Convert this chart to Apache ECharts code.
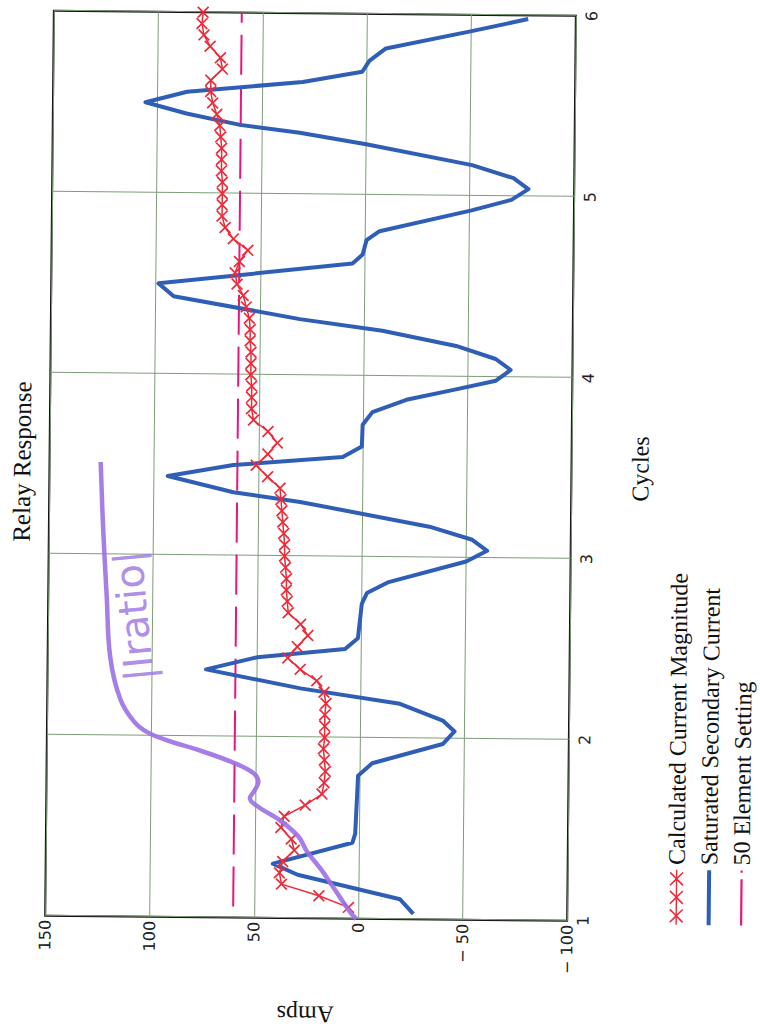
<!DOCTYPE html>
<html><head><meta charset="utf-8">
<script src="https://cdn.jsdelivr.net/npm/echarts@6/dist/echarts.min.js"></script>
<style>
html,body{margin:0;padding:0;width:760px;height:1036px;overflow:hidden;background:#fff;}
#chart{position:absolute;left:-138px;top:138px;width:1036px;height:760px;transform-origin:50% 50%;transform:rotate(-89.45deg);}
</style></head><body><div id="chart"></div>
<script>
// Tick values
const cycleTicks = [1, 2, 3, 4, 5, 6];
const ampTicks = [-100, -50, 0, 50, 100, 150];

// Calculated Current Magnitude (sampled every 1/16 cycle)
const calcCycles = [1.0625,1.125,1.1875,1.25,1.3125,1.375,1.4375,1.5,1.5625,1.625,1.6875,1.75,1.8125,1.875,1.9375,2,
  2.0625,2.125,2.1875,2.25,2.3125,2.375,2.4375,2.5,2.5625,2.625,2.6875,2.75,2.8125,2.875,2.9375,3,
  3.0625,3.125,3.1875,3.25,3.3125,3.375,3.4375,3.5,3.5625,3.625,3.6875,3.75,3.8125,3.875,3.9375,4,
  4.0625,4.125,4.1875,4.25,4.3125,4.375,4.4375,4.5,4.5625,4.625,4.6875,4.75,4.8125,4.875,4.9375,5,
  5.0625,5.125,5.1875,5.25,5.3125,5.375,5.4375,5.5,5.5625,5.625,5.6875,5.75,5.8125,5.875,5.9375,6];
const calcAmps = [4.8,19,37,38,36.5,31,32.5,37.5,36,26,18,17,16.5,17,17.5,17,
  17,17,16.5,17.5,21,29,35,30.5,25.5,29,35,35.5,36,36,36.5,37,
  37,37.5,38,38.5,39,39.5,45.5,51,45.5,41,45.5,52.5,53.5,53.5,53.5,54,
  54,54,54.5,54.5,55,56.5,58,61,62,60,56,63,67,68.5,68.5,68.5,68.5,69,
  69,69,69.5,70,71.5,73.5,74.5,74.5,69,70,75,78,79,78.5];

// Saturated Secondary Current
const satCycles = [1.03,1.11,1.24,1.30,1.42,1.47,1.79,1.86,1.97,2.04,2.10,2.19,2.27,2.37,2.44,2.49,2.55,2.74,2.80,2.86,2.98,3.04,3.10,3.17,3.30,3.35,3.436,3.50,3.55,3.61,3.73,3.80,3.87,3.93,3.98,4.04,4.10,4.17,4.25,4.31,4.43,4.50,4.62,4.67,4.75,4.80,4.92,4.98,5.04,5.10,5.17,5.28,5.34,5.38,5.44,5.50,5.56,5.62,5.68,5.74,5.81,5.91,5.98];
const satAmps = [-26.3,-19.9,29.3,41.2,3.2,1.9,0.8,-5.9,-39.6,-45.2,-39.5,-18.9,28.8,74.1,49.5,7.6,1.5,-0.2,-2.6,-12.5,-50,-60,-52.8,-32.2,29.8,61.8,93.3,61.9,9.6,0.5,0.2,-4.4,-20.6,-44.3,-63.4,-70.4,-63.2,-44.2,-8.8,30.8,91.3,98.6,5.8,1.0,-0.8,-7,-51,-70,-78.1,-70.9,-51,-0.2,31.7,60.3,86,105.7,85.8,30.5,2,-1.3,-9.2,-50.2,-77.2];

// 50 Element Setting
const setCycles = [1, 6];
const setAmps = [60, 60];

// Hand-drawn |Iratio| annotation
const ratioCycles = [1.0,1.03,1.17,1.27,1.37,1.45,1.54,1.61,1.66,1.70,1.75,1.80,1.86,1.93,1.97,2.02,2.08,2.20,2.43,2.77,3.14,3.51];
const ratioAmps = [1,3.5,12,18,25,29,38,48,52.5,50.5,48.5,51,61.5,79,91,102,108.5,115,120,122,124,125.5];
const noteCycles = [2.66];
const noteAmps = [109];

const zip = (xs, ys) => xs.map((x, i) => [x, ys[i]]);
const serif = 'Liberation Serif';
const RED = '#ee2a38', BLUE = '#2f5eb6', PINK = '#e8157f', PURPLE = '#9b70e4';

function xPoly(cx, cy, s, d) {
  const p = [[cx-s,cy-s+d],[cx-s+d,cy-s],[cx,cy-d],[cx+s-d,cy-s],[cx+s,cy-s+d],[cx+d,cy],
             [cx+s,cy+s-d],[cx+s-d,cy+s],[cx,cy+d],[cx-s+d,cy+s],[cx-s,cy+s-d],[cx-d,cy]];
  return 'M' + p.map(q => q[0] + ' ' + q[1]).join(' L') + ' Z';
}
const redIcon = 'path://M0 7.3 L55 7.3 L55 8.7 L0 8.7 Z ' + xPoly(9,8,7,1.1) + ' ' + xPoly(27.5,8,7,1.1) + ' ' + xPoly(46,8,7,1.1);
const blueIcon = 'path://M0 6 L55 6 L55 10 L0 10 Z';
const pinkIcon = 'path://M0 7 L42 7 L42 9 L0 9 Z M48 7 L50 7 L50 9 L48 9 Z';
const xSymbol = 'path://M0 1 L1 0 L5 4 L9 0 L10 1 L6 5 L10 9 L9 10 L5 6 L1 10 L0 9 L4 5 Z';

const chart = echarts.init(document.getElementById('chart'), null, {renderer: 'svg', width: 1036, height: 760});
chart.setOption({
  animation: false,
  backgroundColor: '#fff',
  title: {text: 'Relay Response', left: 566, top: 4, textAlign: 'center',
    textStyle: {fontFamily: serif, fontSize: 25, fontWeight: 'normal', color: '#111'}},
  legend: {
    orient: 'vertical', left: 114, top: 668, padding: 0, height: 92, itemWidth: 55, itemHeight: 16, itemGap: 8.5,
    textStyle: {fontFamily: serif, fontSize: 24, lineHeight: 24, color: '#111'},
    data: [
      {name: 'Calculated Current Magnitude', icon: redIcon},
      {name: 'Saturated Secondary Current', icon: blueIcon},
      {name: '50 Element Setting', icon: pinkIcon}
    ]
  },
  grid: {left: 117, right: 14, top: 49, bottom: 189, show: true, borderColor: '#111', borderWidth: 2},
  xAxis: {
    type: 'value', min: cycleTicks[0], max: cycleTicks[cycleTicks.length - 1], interval: 1,
    name: 'Cycles', nameLocation: 'middle', nameGap: 57,
    nameTextStyle: {fontFamily: serif, fontSize: 24, color: '#111'},
    axisLine: {show: false}, axisTick: {show: false},
    axisLabel: {margin: 8, fontFamily: 'DejaVu Sans', fontSize: 16, color: '#222'},
    splitLine: {lineStyle: {color: '#7d9d78', width: 1}}
  },
  yAxis: {
    type: 'value', min: ampTicks[0], max: ampTicks[ampTicks.length - 1], interval: 50,
    name: 'Amps', nameLocation: 'middle', nameGap: 84,
    nameTextStyle: {fontFamily: serif, fontSize: 24, color: '#111'},
    axisLine: {show: false}, axisTick: {show: false},
    axisLabel: {margin: 4, fontFamily: 'DejaVu Sans', fontSize: 16, color: '#222',
      formatter: v => v < 0 ? '\u2212 ' + (-v) : String(v)},
    splitLine: {lineStyle: {color: '#7d9d78', width: 1}}
  },
  series: [
    {name: '50 Element Setting', type: 'line', data: zip(setCycles, setAmps), symbol: 'none', z: 2,
      itemStyle: {color: PINK}, lineStyle: {color: PINK, width: 2, type: [40, 12], dashOffset: 41}},
    {name: 'Saturated Secondary Current', type: 'line', data: zip(satCycles, satAmps), symbol: 'none', z: 3,
      itemStyle: {color: BLUE}, lineStyle: {color: BLUE, width: 4, join: 'round'}},
    {name: 'Calculated Current Magnitude', type: 'line', data: zip(calcCycles, calcAmps), z: 4,
      symbol: xSymbol, symbolSize: 12, showAllSymbol: true,
      itemStyle: {color: RED}, lineStyle: {color: RED, width: 1.5}},
    {name: 'ratio', type: 'line', data: zip(ratioCycles, ratioAmps), smooth: 0.4, symbol: 'none', z: 5, silent: true,
      lineStyle: {color: PURPLE, width: 4.5, opacity: 0.9}},
    {name: 'note', type: 'scatter', data: zip(noteCycles, noteAmps), symbolSize: 0, z: 5, silent: true,
      label: {show: true, position: 'inside', formatter: '|Iratio|', rotate: 6, fontFamily: 'DejaVu Sans', fontSize: 40, color: PURPLE}}
  ]
});
</script></body></html>
